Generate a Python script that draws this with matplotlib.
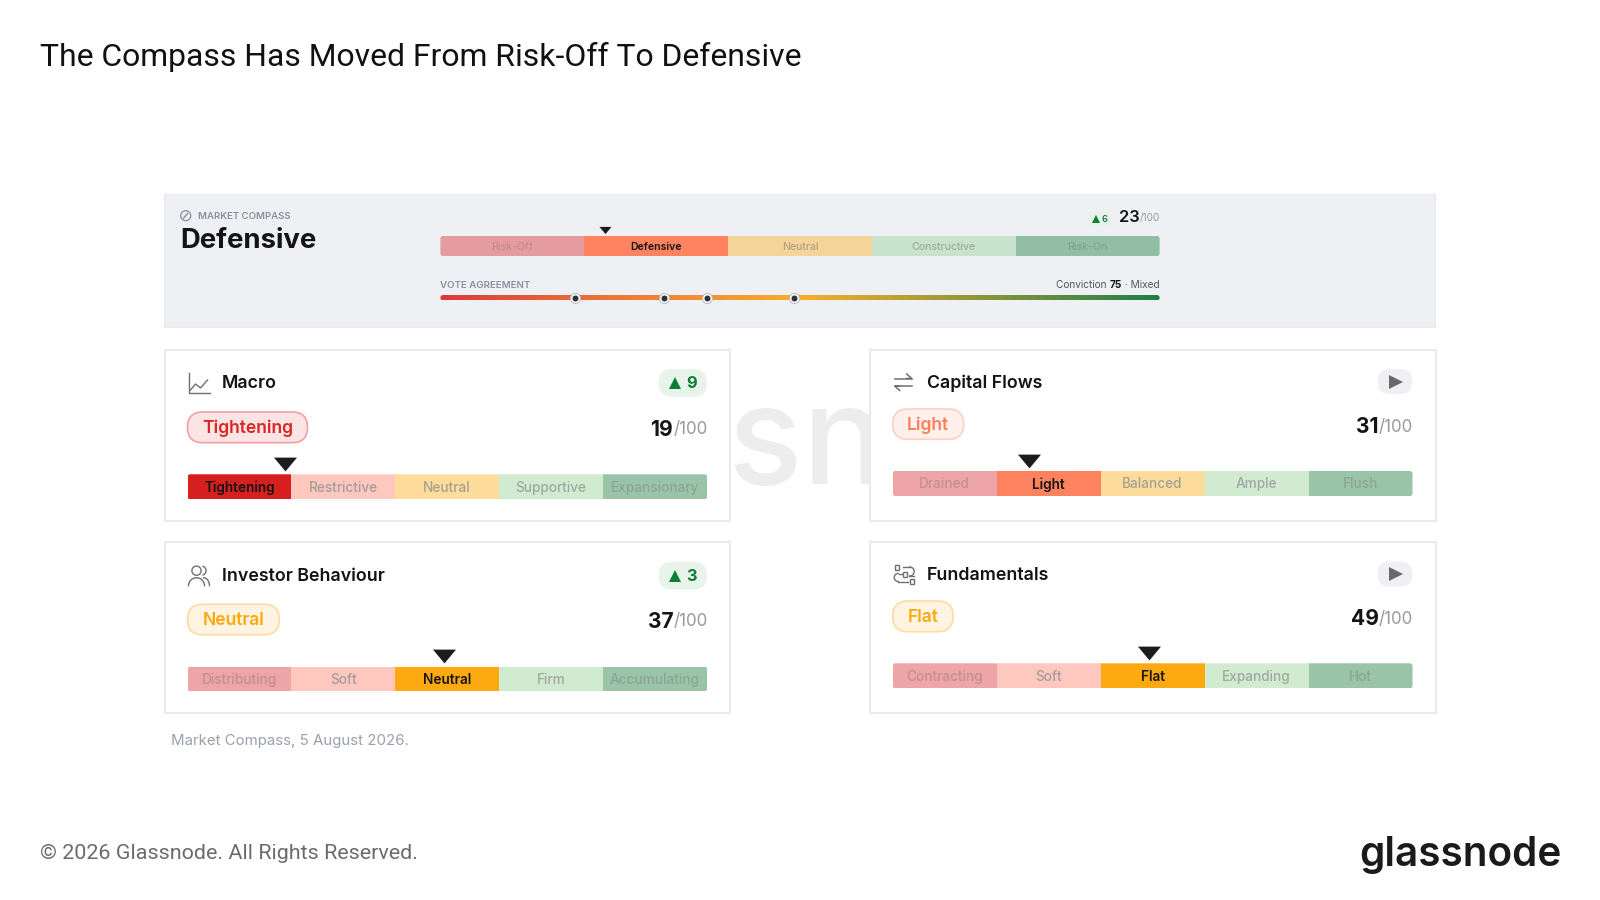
import numpy as np
import matplotlib
matplotlib.use('Agg')
import matplotlib.pyplot as plt
from matplotlib.colors import LinearSegmentedColormap
from matplotlib.patches import FancyBboxPatch, Circle, Rectangle

plt.rcParams['font.family'] = ['Inter', 'DejaVu Sans']

# market compass header
compass_name = 'Defensive'
compass_labels = ['Risk-Off', 'Defensive', 'Neutral', 'Constructive', 'Risk-On']
compass_colors = ['#E59C9E', '#FF8360', '#F4D498', '#C8E3CB', '#91BEA5']
compass_score = 23
compass_change = 6
compass_marker = 22.9
compass_active = 1
conviction = 75
conviction_text = 'Mixed'
vote_points = [18.7, 31.1, 37.1, 49.1]

# the four cards
card_names = ['Macro', 'Capital Flows', 'Investor Behaviour', 'Fundamentals']
card_states = ['Tightening', 'Light', 'Neutral', 'Flat']
card_scores = [19, 31, 37, 49]
card_changes = [9, 0, 3, 0]
card_markers = [18.7, 26.2, 49.4, 49.3]
card_active = [0, 1, 2, 2]
macro_labels = ['Tightening', 'Restrictive', 'Neutral', 'Supportive', 'Expansionary']
flows_labels = ['Drained', 'Light', 'Balanced', 'Ample', 'Flush']
investor_labels = ['Distributing', 'Soft', 'Neutral', 'Firm', 'Accumulating']
fundamentals_labels = ['Contracting', 'Soft', 'Flat', 'Expanding', 'Hot']
card_labels = [macro_labels, flows_labels, investor_labels, fundamentals_labels]
segment_widths = [20, 20, 20, 20, 20]

# colours
pale_colors = ['#EDA5A7', '#FFC8BE', '#FDDC9C', '#D0EBD0', '#9AC4A8']
active_colors = ['#D62020', '#FF825F', '#FDAA12']
pale_text = ['#C48F93', '#A39C9A', '#A5A092', '#A0A8A2', '#8BA594']
pill_text = {'Tightening': '#D92525', 'Light': '#FF7F5C', 'Neutral': '#FDA90F', 'Flat': '#FDA90F'}
pill_face = {'Tightening': '#FCE4E4', 'Light': '#FFF0EC', 'Neutral': '#FFF4E2', 'Flat': '#FFF4E2'}
pill_edge = {'Tightening': '#F2A0A2', 'Light': '#FFCFC2', 'Neutral': '#FDDCA0', 'Flat': '#FDDCA0'}
green = '#0B7F33'

W, H = 1600, 900
fig = plt.figure(figsize=(16, 9), dpi=100, facecolor='white')
base = fig.add_axes([0, 0, 1, 1])
base.set_xlim(0, W)
base.set_ylim(H, 0)
base.axis('off')
renderer = fig.canvas.get_renderer()


def px(size):
    return size * 0.72


def text(x, y, s, size, color='#111111', weight='normal', ha='left', family=None, zorder=6):
    kw = {'family': family} if family else {}
    # va center sits a bit high for this font
    return base.text(x, y + 1.5, s, fontsize=px(size), color=color, fontweight=weight,
                     ha=ha, va='center', zorder=zorder, **kw)


def text_right(x, y, parts):
    # parts go right to left, each one butts against the next
    for s, size, color, weight in reversed(parts):
        t = text(x, y, s, size, color, weight, ha='right')
        x = t.get_window_extent(renderer).x0


def round_box(x0, y0, x1, y1, r, face, edge='none', lw=0, zorder=3):
    p = FancyBboxPatch((x0 + r, y0 + r), x1 - x0 - 2 * r, y1 - y0 - 2 * r,
                       boxstyle=f'round,pad={r},rounding_size={r}', facecolor=face,
                       edgecolor=edge, linewidth=lw, zorder=zorder)
    base.add_patch(p)
    return p


def scale_bar(x0, y0, x1, y1, labels, colors, active, marker, marker_size, marker_up,
              font, label_colors):
    ax = fig.add_axes([x0 / W, 1 - y1 / H, (x1 - x0) / W, (y1 - y0) / H])
    ax.set_xlim(0, sum(segment_widths))
    ax.set_ylim(0, 1)
    ax.axis('off')
    clip = round_box(x0, y0, x1, y1, 2.5, 'none', zorder=1)
    lefts = np.cumsum([0] + segment_widths[:-1])
    bars = ax.barh([0.5] * 5, segment_widths, left=lefts, height=1, color=colors, linewidth=0)
    for b in bars:
        b.set_clip_path(clip)
    for i, lab in enumerate(labels):
        on = i == active
        ax.text(lefts[i] + segment_widths[i] / 2, 0.47, lab, fontsize=px(font), ha='center', va='center',
                color='#141414' if on else label_colors[i], fontweight='semibold' if on else 'medium')
    ax.plot([marker], [1 + marker_up / (y1 - y0)], marker=[(-1, 0.6), (1, 0.6), (0, -0.6)],
            ms=px(marker_size), color='#1C1C1C', mew=0, clip_on=False, ls='none')
    return ax


def change_badge(x0, y0, x1, y1, value, size=16.5):
    round_box(x0, y0, x1, y1, (y1 - y0) / 2, '#E8F3EC')
    cy = (y0 + y1) / 2
    tri = (x1 - x0) * 0.34
    base.plot([x0 + tri], [cy], marker='^', ms=px(size * 0.72), color=green, mew=0, ls='none', zorder=6)
    text(x0 + (x1 - x0) * 0.57, cy - 1, str(value), size, green, 'bold')


def flat_badge(x0, y0, x1, y1):
    round_box(x0, y0, x1, y1, (y1 - y0) / 2, '#EEF0F4')
    base.plot([(x0 + x1) / 2 + 0.5], [(y0 + y1) / 2], marker='>', ms=px(14.5), color='#6A6A6A', mew=0,
              ls='none', zorder=6)


def icon_macro(x, y):
    c = '#707070'
    base.plot([x, x, x + 21], [y - 10, y + 10, y + 10], color=c, lw=1, zorder=6)
    base.plot([x + 2, x + 7, x + 12, x + 19], [y + 7, y + 1, y + 5, y - 3], color=c, lw=1, zorder=6)


def icon_flows(x, y):
    c = '#707070'
    base.plot([x, x + 17], [y - 3.5, y - 3.5], color=c, lw=1.1, zorder=6)
    base.plot([x + 12, x + 17, x + 12], [y - 8, y - 3.5, y - 3.5], color=c, lw=1.1, zorder=6)
    base.plot([x, x + 17], [y + 4, y + 4], color=c, lw=1.1, zorder=6)
    base.plot([x + 5, x, x + 5], [y + 8.5, y + 4, y + 4], color=c, lw=1.1, zorder=6)


def icon_people(x, y):
    c = '#707070'
    base.add_patch(Circle((x + 8, y - 5), 4.6, fc='none', ec=c, lw=1, zorder=6))
    t = np.radians(np.arange(180, 361, 15))
    base.plot(x + 8 + 8 * np.cos(t), y + 10 + 8 * np.sin(t), color=c, lw=1, zorder=6)
    t2 = np.radians(np.arange(-70, 71, 20))
    base.plot(x + 13 + 4.6 * np.cos(t2), y - 5 + 4.6 * np.sin(t2), color=c, lw=1, zorder=6)
    t3 = np.radians(np.arange(270, 361, 15))
    base.plot(x + 15 + 6 * np.cos(t3), y + 10 + 8 * np.sin(t3), color=c, lw=1, zorder=6)


def icon_fundamentals(x, y):
    c = '#707070'
    for dx, dy in [(1, -9), (9, -2), (16, 5)]:
        base.add_patch(Rectangle((x + dx, y + dy), 4.5, 4.5, fc='none', ec=c, lw=1, zorder=6))
    t = np.radians(np.arange(-90, 91, 15))
    base.plot([x + 9, x + 16], [y - 7, y - 7], color=c, lw=1, zorder=6)
    base.plot(x + 16 + 4.5 * np.cos(t), y - 2.5 + 4.5 * np.sin(t), color=c, lw=1, zorder=6)
    base.plot([x + 15, x + 20], [y + 2, y + 2], color=c, lw=1, zorder=6)
    base.plot([x + 5, x + 8], [y, y], color=c, lw=1, zorder=6)
    t = np.radians(np.arange(90, 271, 15))
    base.plot(x + 4.5 + 4 * np.cos(t), y + 3.5 + 4 * np.sin(t), color=c, lw=1, zorder=6)
    base.plot([x + 4.5, x + 14], [y + 7.5, y + 7.5], color=c, lw=1, zorder=6)


# page texts
text(40, 55.5, 'The Compass Has Moved From Risk-Off To Defensive', 31.9, '#111111', family='Roboto')
text(40, 852, '© 2026 Glassnode. All Rights Reserved.', 21.5, '#6B6B6B', family='Roboto')
text(1460, 853, 'glassnode', 40.5, '#1A1A1A', 'semibold', ha='center')
text(796, 447, 'glassnode', 138, '#EDEDED', 'medium', ha='center', zorder=1)

# header panel
base.add_patch(Rectangle((164, 194), 1271, 133, fc='#EEF0F4', ec='#E9EAEE', lw=0.8, zorder=2))
base.add_patch(Circle((185.7, 215.7), 5, fc='none', ec='#8A8F9C', lw=0.9, zorder=6))
base.plot([183.7, 187.7], [218, 213.4], color='#8A8F9C', lw=1, zorder=6)
text(197.5, 215, 'MARKET COMPASS', 9.6, '#8A8F9C', 'semibold')
text(180, 239, compass_name, 27.5, '#141414', 'bold')

scale_bar(440.4, 236, 1159.6, 256, compass_labels, compass_colors, compass_active, compass_marker, 12, 6,
          10.5, ['#C28C8F', '#141414', '#B0A283', '#9DAB9F', '#7FA590'])

round_box(1088, 211.7, 1111, 225.7, 7, '#E8F1EC')
base.plot([1096], [219], marker='^', ms=px(8), color=green, mew=0, ls='none', zorder=6)
text(1101, 218, str(compass_change), 9, green, 'semibold')
text_right(1160.5, 216.5, [(str(compass_score), 16.5, '#141414', 'semibold'), ('/100', 10, '#9A9A9A', 'normal')])

text(440.4, 283.5, 'VOTE AGREEMENT', 9.7, '#8A8F9C', 'semibold')
text_right(1159.6, 283, [('Conviction ', 10.1, '#555555', 'normal'), (str(conviction), 10.1, '#141414', 'bold'),
                         (' · ' + conviction_text, 10.1, '#555555', 'normal')])

# vote agreement strip
vx0, vx1, vy0, vy1 = 440.4, 1159.6, 295, 300.5
vote_ax = fig.add_axes([vx0 / W, 1 - vy1 / H, (vx1 - vx0) / W, (vy1 - vy0) / H])
vote_stops = [(0, '#DC3A3D'), (0.25, '#EC7A35'), (0.5, '#F8AE2B'), (1, '#1F7F4A')]
vote_cmap = LinearSegmentedColormap.from_list('vote', vote_stops, N=256)
vote_clip = round_box(vx0, vy0, vx1, vy1, 2.7, 'none', zorder=1)
im = vote_ax.imshow(np.linspace(0, 1, 256)[None, :], extent=[0, 100, 0, 1], aspect='auto', cmap=vote_cmap)
im.set_clip_path(vote_clip)
vote_ax.set_xlim(0, 100)
vote_ax.set_ylim(0, 1)
vote_ax.axis('off')
vote_y = [0.5] * len(vote_points)
vote_ax.plot(vote_points, vote_y, 'o', ms=px(10), mfc='white', mec='#B8BBC2', mew=0.7, clip_on=False)
vote_ax.plot(vote_points, vote_y, 'o', ms=px(6), mfc='#2E3238', mew=0, clip_on=False)

# cards, layout per card: left, top, right, bottom, then offset of the contents
card_boxes = [(164.5, 350, 730, 521), (869.7, 350, 1435.5, 521),
              (164.5, 542, 730, 713), (869.7, 542, 1435.5, 713)]
title_y = [383, 382, 575.7, 574]
badge_y = [(369, 397), (369, 394), (561.7, 589.7), (561.7, 586.7)]
pill_y = [(412, 442.7), (409, 439.3), (604.3, 634.7), (601, 631.7)]
pill_w = [120, 71, 91.8, 60.4]
score_y = [428.5, 425.5, 620.5, 617.5]
bar_y = [(474.3, 499.3), (471, 496), (666.7, 691.3), (663.3, 688.3)]
icons = [icon_macro, icon_flows, icon_people, icon_fundamentals]

for i, name in enumerate(card_names):
    x0, y0, x1, y1 = card_boxes[i]
    base.add_patch(Rectangle((x0, y0), x1 - x0, y1 - y0, fc='white', ec='#E9EAEE', lw=1.4, zorder=2))
    cx0 = x0 + 23
    cx1 = x1 - 23
    icons[i](cx0 + 1 if i != 1 else cx0 + 2, title_y[i])
    text(cx0 + 34.5, title_y[i] - 0.5, name, 17.8, '#141414', 'semibold')

    if card_changes[i] > 0:
        change_badge(cx1 - 48.5, badge_y[i][0], cx1, badge_y[i][1], card_changes[i])
    else:
        flat_badge(cx1 - 35, badge_y[i][0], cx1, badge_y[i][1])

    state = card_states[i]
    py0, py1 = pill_y[i]
    round_box(cx0, py0, cx0 + pill_w[i], py1, (py1 - py0) / 2, pill_face[state], pill_edge[state], 1.2)
    text(cx0 + pill_w[i] / 2, (py0 + py1) / 2 - 0.5, state, 17.5, pill_text[state], 'semibold', ha='center')

    text_right(cx1 + 0.5, score_y[i], [(str(card_scores[i]), 21, '#141414', 'bold'), ('/100', 17, '#9A9A9A', 'normal')])

    colors = list(pale_colors)
    colors[card_active[i]] = active_colors[card_active[i]]
    scale_bar(cx0, bar_y[i][0], cx1, bar_y[i][1], card_labels[i], colors, card_active[i], card_markers[i],
              23, 10.3, 13.6, pale_text)

text(171.4, 740, 'Market Compass, 5 August 2026.', 15, '#9AA0AC')

fig.savefig('out.png', dpi=100, facecolor='white')
